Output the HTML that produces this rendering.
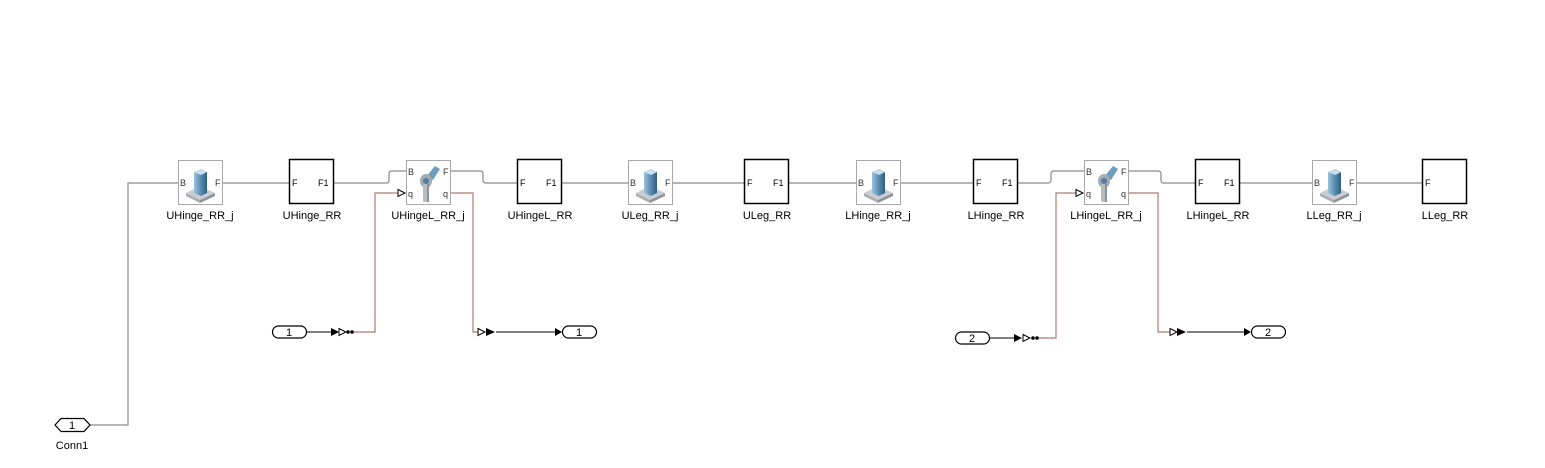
<!DOCTYPE html>
<html><head><meta charset="utf-8"><style>
html,body{margin:0;padding:0;background:#fff;width:1545px;height:468px;overflow:hidden}
text{font-family:"Liberation Sans",Arial,sans-serif}
</style></head><body>
<svg width="1545" height="468" viewBox="0 0 1545 468" xmlns="http://www.w3.org/2000/svg">
<defs>
<linearGradient id="bl" x1="0" x2="1"><stop offset="0" stop-color="#9cc3dc"/><stop offset="0.5" stop-color="#5b8fb3"/><stop offset="1" stop-color="#2f5f82"/></linearGradient>
<g id="weld">
<rect x="0.5" y="0.5" width="44" height="44" fill="#fff" stroke="#a8a8a8"/>
<polygon points="8,33 22,26 37,33 22,40" fill="#c9ccd0"/>
<polygon points="8,33 22,40 22,43 8,36" fill="#a9adb2"/>
<polygon points="22,40 37,33 37,36 22,43" fill="#8f949a"/>
<polygon points="16,12 23,9 29,12 29,33 23,36 16,33" fill="url(#bl)"/>
<polygon points="16,12 23,9 29,12 23,15" fill="#c7dfee"/>
</g>
<g id="rev">
<rect x="0.5" y="0.5" width="44" height="44" fill="#fff" stroke="#a8a8a8"/>
<polygon points="20,17 29,6 34,9 27,20" fill="#6d9ec0"/>
<ellipse cx="20" cy="21" rx="6" ry="7" fill="#a4aab0"/>
<circle cx="20" cy="21" r="3" fill="#4f7fa5"/>
<rect x="17" y="24" width="6" height="18" rx="2" fill="#b9bdc2"/>
<rect x="21" y="24" width="2" height="18" fill="#8d9297"/>
</g>
</defs>

<!-- main chain wires -->
<g fill="none" stroke="#8a8a8a" stroke-width="1.2">
<path d="M90,425 H128 V183 H178"/>
<path d="M222,183 H289"/>
<path d="M334,183 H387 Q389,183 389,180 V174 Q389,171 392,171 H406"/>
<path d="M451,171 H480 Q483,171 483,174 V180 Q483,183 486,183 H517"/>
<path d="M562,183 H628"/>
<path d="M673,183 H744"/>
<path d="M789,183 H856"/>
<path d="M901,183 H973"/>
<path d="M1018,183 H1048 Q1051,183 1051,180 V174 Q1051,171 1054,171 H1084"/>
<path d="M1129,171 H1158 Q1161,171 1161,174 V180 Q1161,183 1164,183 H1195"/>
<path d="M1240,183 H1312"/>
<path d="M1357,183 H1422"/>
</g>
<!-- red q wires -->
<g fill="none" stroke="#b07a76" stroke-width="1.2">
<path d="M352,332 H375 V193 H398"/>
<path d="M451,193 H473 V332 H478"/>
<path d="M1037,338 H1056 V193 H1076"/>
<path d="M1129,193 H1158 V332 H1170"/>
</g>
<!-- black signal wires -->
<g fill="none" stroke="#000" stroke-width="1">
<path d="M306,332 H331"/>
<path d="M496,332 H555"/>
<path d="M990,338 H1014"/>
<path d="M1187,332 H1244"/>
</g>
<g fill="#000">
<polygon points="331,328 339,332 331,336"/>
<polygon points="555,328 562,332 555,336"/>
<polygon points="1014,334 1022,338 1014,342"/>
<polygon points="1244,328 1251,332 1244,336"/>
<polygon points="486,328 495,332 486,336"/>
<polygon points="1177,328 1186,332 1177,336"/>
<circle cx="348" cy="332" r="1.8"/><circle cx="352" cy="332" r="1.8"/>
<circle cx="1033" cy="338" r="1.8"/><circle cx="1037" cy="338" r="1.8"/>
</g>
<g fill="#fff" stroke="#000" stroke-width="1">
<polygon points="339,328.5 346,332 339,335.5"/>
<polygon points="478,328.5 485,332 478,335.5"/>
<polygon points="1023,334.5 1030,338 1023,341.5"/>
<polygon points="1170,328.5 1177,332 1170,335.5"/>
<polygon points="398,189.5 405,193 398,196.5"/>
<polygon points="1076,189.5 1083,193 1076,196.5"/>
</g>

<!-- ports: pills -->
<g fill="#fff" stroke="#000" stroke-width="1.2">
<rect x="272.5" y="326" width="34" height="12" rx="6"/>
<rect x="562.5" y="326" width="34" height="12" rx="6"/>
<rect x="955.5" y="332" width="34" height="12" rx="6"/>
<rect x="1251.5" y="326" width="34" height="12" rx="6"/>
<polygon points="55,425 61,418.5 84,418.5 90,425 84,431.5 61,431.5"/>
</g>
<g font-size="11" text-anchor="middle" fill="#000">
<text x="289" y="336">1</text><text x="579" y="336">1</text>
<text x="972" y="342">2</text><text x="1268" y="336">2</text>
<text x="72" y="429">1</text>
<text x="72" y="449">Conn1</text>
</g>

<!-- blocks -->
<use href="#weld" x="178" y="160"/>
<use href="#rev" x="406" y="160"/>
<use href="#weld" x="628" y="160"/>
<use href="#weld" x="856" y="160"/>
<use href="#rev" x="1084" y="160"/>
<use href="#weld" x="1312" y="160"/>
<g fill="#fff" stroke="#000" stroke-width="1.5">
<rect x="289.5" y="159.5" width="44" height="44"/>
<rect x="517.5" y="159.5" width="44" height="44"/>
<rect x="744.5" y="159.5" width="44" height="44"/>
<rect x="973.5" y="159.5" width="44" height="44"/>
<rect x="1195.5" y="159.5" width="44" height="44"/>
<rect x="1422.5" y="159.5" width="44" height="44"/>
</g>
<g font-size="9" fill="#333">
<text x="180" y="186">B</text><text x="215" y="186">F</text>
<text x="630" y="186">B</text><text x="665" y="186">F</text>
<text x="858" y="186">B</text><text x="893" y="186">F</text>
<text x="1314" y="186">B</text><text x="1349" y="186">F</text>
<text x="408" y="175">B</text><text x="443" y="175">F</text><text x="408" y="197">q</text><text x="443" y="197">q</text>
<text x="1086" y="175">B</text><text x="1121" y="175">F</text><text x="1086" y="197">q</text><text x="1121" y="197">q</text>
</g>
<g font-size="9" fill="#000">
<text x="292" y="186">F</text><text x="318" y="186">F1</text>
<text x="520" y="186">F</text><text x="546" y="186">F1</text>
<text x="747" y="186">F</text><text x="773" y="186">F1</text>
<text x="976" y="186">F</text><text x="1002" y="186">F1</text>
<text x="1198" y="186">F</text><text x="1224" y="186">F1</text>
<text x="1425" y="186">F</text>
</g>
<g font-size="11" text-anchor="middle" fill="#000">
<text x="200" y="219">UHinge_RR_j</text>
<text x="312" y="219">UHinge_RR</text>
<text x="428" y="219">UHingeL_RR_j</text>
<text x="540" y="219">UHingeL_RR</text>
<text x="650" y="219">ULeg_RR_j</text>
<text x="767" y="219">ULeg_RR</text>
<text x="878" y="219">LHinge_RR_j</text>
<text x="996" y="219">LHinge_RR</text>
<text x="1106" y="219">LHingeL_RR_j</text>
<text x="1218" y="219">LHingeL_RR</text>
<text x="1334" y="219">LLeg_RR_j</text>
<text x="1445" y="219">LLeg_RR</text>
</g>
</svg>
</body></html>
